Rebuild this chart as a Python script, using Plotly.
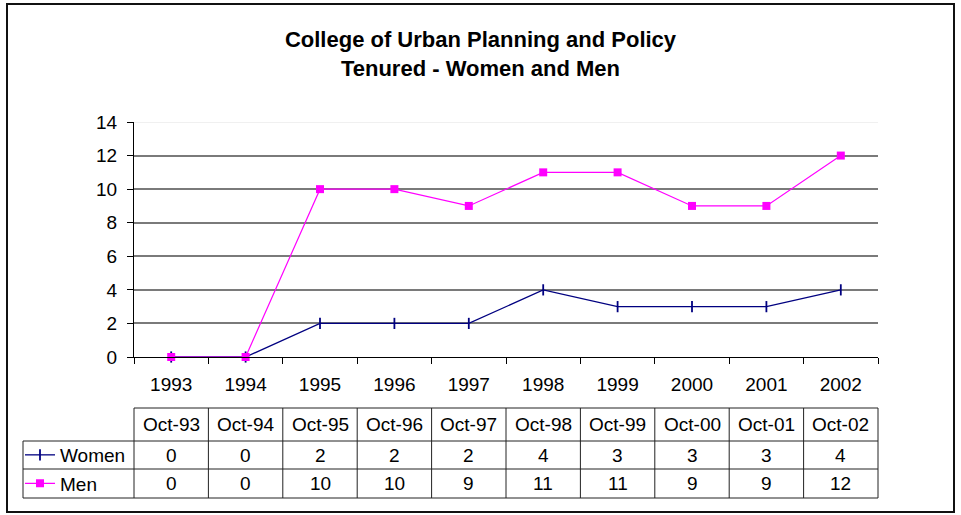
import plotly.graph_objects as go

# ---- data ----
years = ["1993", "1994", "1995", "1996", "1997", "1998", "1999", "2000", "2001", "2002"]
table_headers = ["Oct-93", "Oct-94", "Oct-95", "Oct-96", "Oct-97", "Oct-98", "Oct-99", "Oct-00", "Oct-01", "Oct-02"]
women = [0, 0, 2, 2, 2, 4, 3, 3, 3, 4]
men = [0, 0, 10, 10, 9, 11, 11, 9, 9, 12]
y_ticks = [0, 2, 4, 6, 8, 10, 12, 14]

title_lines = ["College of Urban Planning and Policy", "Tenured - Women and Men"]

# ---- style / layout ----
W, H = 961, 515
ML, MR, MT, MB = 134, 83, 122, 158
PW, PH = W - ML - MR, H - MT - MB
FONT = "Liberation Sans, Arial, sans-serif"
WOMEN_C = "#000080"
MEN_C = "#FF00FF"


def px_x(px):
    return (px - ML) / PW


def px_y(py):
    return (H - MB - py) / PH


fig = go.Figure()
fig.add_trace(go.Scatter(
    x=years, y=women, name="Women", mode="lines+markers",
    line=dict(color=WOMEN_C, width=1.3),
    marker=dict(symbol="line-ns", size=8, line=dict(color=WOMEN_C, width=1.8)),
    legend="legend", cliponaxis=False,
))
fig.add_trace(go.Scatter(
    x=years, y=men, name="Men", mode="lines+markers",
    line=dict(color=MEN_C, width=1.2),
    marker=dict(symbol="square", size=8, color=MEN_C),
    legend="legend2", cliponaxis=False,
))

n = len(years)
shapes = []
annotations = []

# light top gridline at the axis maximum
shapes.append(dict(type="line", xref="paper", yref="y", x0=0, x1=1,
                   y0=y_ticks[-1], y1=y_ticks[-1], layer="below",
                   line=dict(color="#e2e2e2", width=1)))

# table geometry (pixel rows)
row_top, row_hdr, row_w, row_bot = 408, 441, 469, 498
left_col = 23
line_style = dict(color="#222222", width=1)

# horizontal lines
shapes.append(dict(type="line", xref="paper", yref="paper", x0=0, x1=1,
                   y0=px_y(row_top), y1=px_y(row_top), line=line_style))
for r in (row_hdr, row_w, row_bot):
    shapes.append(dict(type="line", xref="paper", yref="paper", x0=px_x(left_col), x1=1,
                       y0=px_y(r), y1=px_y(r), line=line_style))
# vertical lines
shapes.append(dict(type="line", xref="paper", yref="paper", x0=px_x(left_col), x1=px_x(left_col),
                   y0=px_y(row_hdr), y1=px_y(row_bot), line=line_style))
for i in range(n + 1):
    shapes.append(dict(type="line", xref="paper", yref="paper", x0=i / n, x1=i / n,
                       y0=px_y(row_top), y1=px_y(row_bot), line=line_style))

# cell texts
for i in range(n):
    cx = (i + 0.5) / n
    for txt, (a, b) in ((table_headers[i], (row_top, row_hdr)),
                        (str(women[i]), (row_hdr, row_w)),
                        (str(men[i]), (row_w, row_bot))):
        annotations.append(dict(x=cx, y=px_y((a + b) / 2), xref="paper", yref="paper",
                                text=txt, showarrow=False, xanchor="center", yanchor="middle",
                                font=dict(family=FONT, size=19, color="black")))

# outer chart border
shapes.append(dict(type="rect", xref="paper", yref="paper",
                   x0=px_x(7), x1=px_x(954), y0=px_y(4), y1=px_y(512),
                   line=dict(color="#111111", width=2), fillcolor="rgba(0,0,0,0)"))

fig.update_layout(
    width=W, height=H,
    margin=dict(l=ML, r=MR, t=MT, b=MB, autoexpand=False),
    paper_bgcolor="white", plot_bgcolor="white",
    font=dict(family=FONT, size=19, color="black"),
    title=dict(text="<b>" + title_lines[0] + "</b><br><b>" + title_lines[1] + "</b>",
               x=0.5, xref="container", xanchor="center",
               y=1 - 47 / H, yref="container", yanchor="middle",
               font=dict(family=FONT, size=22, color="black")),
    xaxis=dict(type="category", tickson="boundaries", ticks="outside", ticklen=6,
               tickcolor="black", showline=True, linecolor="black", linewidth=1,
               showgrid=False, zeroline=False, range=[-0.5, n - 0.5],
               tickfont=dict(family=FONT, size=19), ticklabelstandoff=10),
    yaxis=dict(range=[0, 14], tickvals=y_ticks, ticks="outside", ticklen=6,
               tickcolor="black", showline=True, linecolor="black", linewidth=1,
               showgrid=True, gridcolor="#7a7a7a", gridwidth=2, zeroline=False,
               tickfont=dict(family=FONT, size=19), ticklabelstandoff=6),
    legend=dict(x=px_x(20), y=px_y((row_hdr + row_w) / 2), xref="paper", yref="paper",
                xanchor="left", yanchor="middle", bgcolor="rgba(0,0,0,0)", borderwidth=0,
                font=dict(family=FONT, size=19)),
    legend2=dict(x=px_x(20), y=px_y((row_w + row_bot) / 2), xref="paper", yref="paper",
                 xanchor="left", yanchor="middle", bgcolor="rgba(0,0,0,0)", borderwidth=0,
                 font=dict(family=FONT, size=19)),
    shapes=shapes,
    annotations=annotations,
    showlegend=True,
)

fig.write_html("out.html",
               config={"displayModeBar": False},
               post_script="document.body.style.margin='0';document.body.style.overflow='hidden';")
